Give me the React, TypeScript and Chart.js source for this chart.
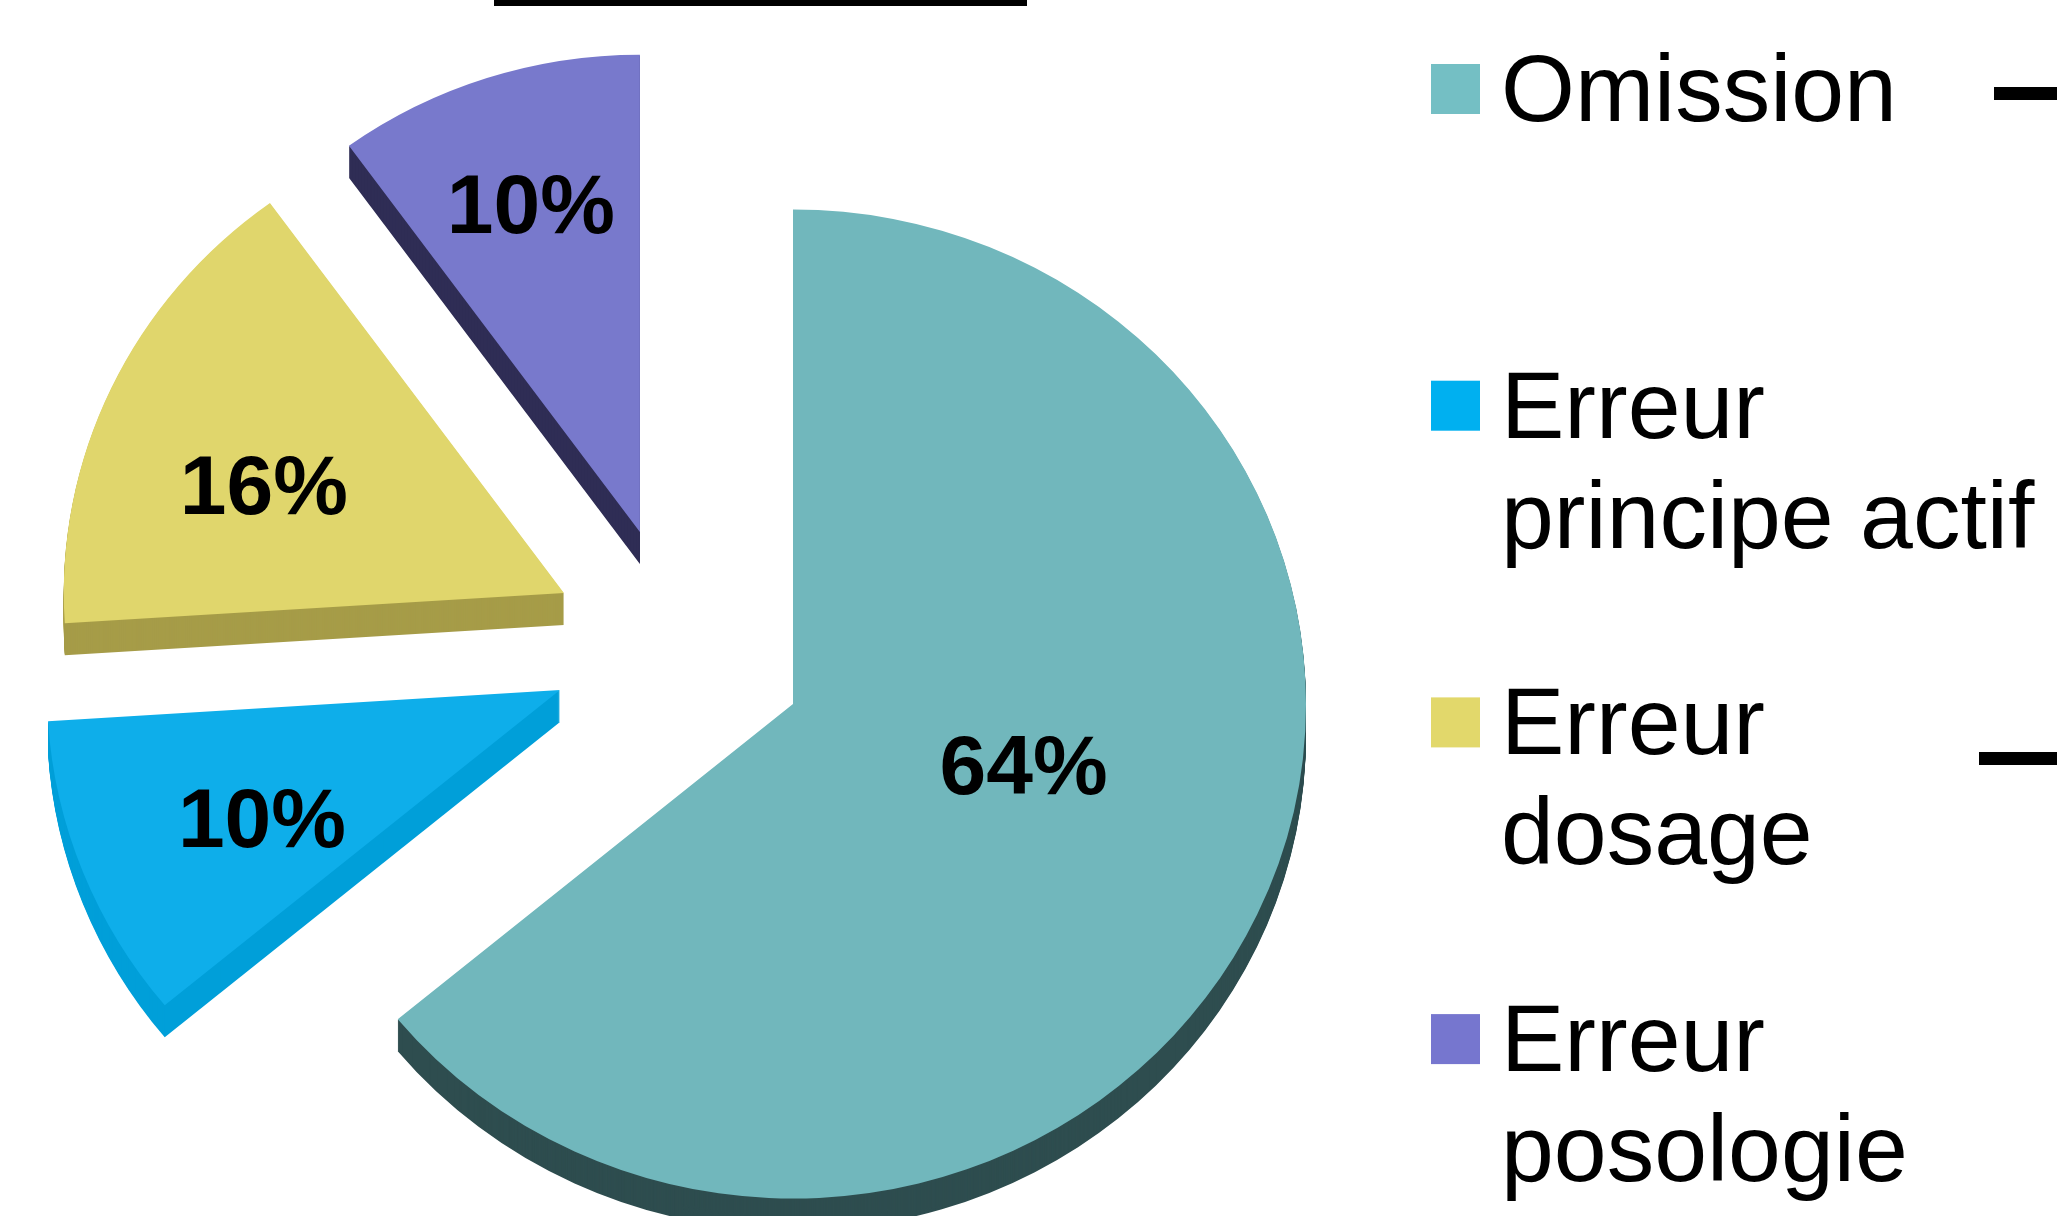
import React, { useEffect, useRef } from "react";
import { Chart, registerables } from "chart.js";

Chart.register(...registerables);

// ---- data ----
const categories = ["Omission", "Erreur principe actif", "Erreur dosage", "Erreur posologie"];
const values = [64, 10, 16, 10];
const valueLabels = ["64%", "10%", "16%", "10%"];

// ---- styles ----
const topColors = ["#71B7BC", "#0EAEEA", "#E0D66C", "#7879CC"];
const sideColors = ["#2E4D4F", "#009FD9", "#A69C48", "#2F2D55"];
const legendColors = ["#74BFC4", "#00B0F0", "#E2D86B", "#7676CF"];
const explodeRadial = [0, 211.5, 254.5, 211];
const explodeTangent = [0, 98.7, 2.9, -92.4];
const radiusScale = [1, 1, 0.975, 0.965];
const labelFrac = [0.468, 0.637, 0.618, 0.663];
const labelRotDeg = [-9, -2.6, -6.4, -0.7];

const W = 2057;
const H = 1216;
const PIE_RADIUS = 513;
const TILT = 0.964;
const DEPTH = 32;
const FONT = '"Liberation Sans", Arial, Helvetica, sans-serif';

const LEGEND_SQUARE_X = 1431;
const LEGEND_TEXT_X = 1501;
const LEGEND_FIRST_BASELINE = 121;
const LEGEND_STEP = 316.7;
const LEGEND_LINE_HEIGHT = 110;
const LEGEND_WRAP = 560;

function wrapText(ctx: CanvasRenderingContext2D, text: string, maxW: number): string[] {
  const words = text.split(" ");
  const lines: string[] = [];
  let cur = "";
  for (const w of words) {
    const test = cur ? cur + " " + w : w;
    if (cur && ctx.measureText(test).width > maxW) {
      lines.push(cur);
      cur = w;
    } else {
      cur = test;
    }
  }
  if (cur) lines.push(cur);
  return lines;
}

const pie3dPlugin = {
  id: "pie3d",
  afterDatasetUpdate(chart: any, args: any) {
    const meta = args.meta;
    meta.data.forEach((el: any, i: number) => {
      const a = (el.startAngle + el.endAngle) / 2;
      const dx = Math.cos(a) * explodeRadial[i] - Math.sin(a) * explodeTangent[i];
      const dy = Math.sin(a) * explodeRadial[i] + Math.cos(a) * explodeTangent[i];
      el.x += dx;
      el.y += dy / TILT;
      el.outerRadius = el.outerRadius * radiusScale[i];
    });
  },
  beforeDatasetsDraw(chart: any) {
    const ctx = chart.ctx as CanvasRenderingContext2D;
    const area = chart.chartArea;
    const cy = (area.top + area.bottom) / 2;
    ctx.save();
    ctx.translate(0, cy);
    ctx.scale(1, TILT);
    ctx.translate(0, -cy);
    const meta = chart.getDatasetMeta(0);
    meta.data.forEach((el: any, i: number) => {
      ctx.fillStyle = sideColors[i];
      for (let t = DEPTH; t >= 1; t--) {
        const y = el.y + t / TILT;
        ctx.beginPath();
        ctx.moveTo(el.x, y);
        ctx.arc(el.x, y, el.outerRadius, el.startAngle, el.endAngle);
        ctx.closePath();
        ctx.fill();
      }
    });
  },
  afterDatasetsDraw(chart: any) {
    const ctx = chart.ctx as CanvasRenderingContext2D;
    ctx.restore();
    const area = chart.chartArea;
    const cy = (area.top + area.bottom) / 2;
    const meta = chart.getDatasetMeta(0);
    ctx.save();
    ctx.fillStyle = "#000";
    ctx.font = `bold 84px ${FONT}`;
    ctx.textAlign = "center";
    ctx.textBaseline = "middle";
    meta.data.forEach((el: any, i: number) => {
      const a = (el.startAngle + el.endAngle) / 2 + (labelRotDeg[i] * Math.PI) / 180;
      const d = labelFrac[i] * PIE_RADIUS;
      const ax = el.x;
      const ay = cy + (el.y - cy) * TILT;
      ctx.fillText(valueLabels[i], ax + Math.cos(a) * d, ay + Math.sin(a) * d);
    });
    ctx.restore();
  },
  afterDraw(chart: any) {
    const ctx = chart.ctx as CanvasRenderingContext2D;
    ctx.save();
    // legend
    ctx.font = `95px ${FONT}`;
    ctx.textAlign = "left";
    ctx.textBaseline = "alphabetic";
    categories.forEach((label, i) => {
      const base = LEGEND_FIRST_BASELINE + i * LEGEND_STEP;
      ctx.fillStyle = legendColors[i];
      ctx.fillRect(LEGEND_SQUARE_X, base - 57, 49, 50);
      ctx.fillStyle = "#000";
      const lines = wrapText(ctx, label, LEGEND_WRAP);
      lines.forEach((ln, j) => {
        ctx.fillText(ln, LEGEND_TEXT_X, base + j * LEGEND_LINE_HEIGHT);
      });
    });
    // cropped decorative bars
    ctx.fillStyle = "#000";
    ctx.fillRect(494, 0, 533, 6);
    ctx.fillRect(1994, 87, 63, 13);
    ctx.fillRect(1979, 752, 78, 13);
    ctx.restore();
  },
};

export default function App() {
  const canvasRef = useRef<HTMLCanvasElement | null>(null);

  useEffect(() => {
    if (!canvasRef.current) return;
    const chart = new Chart(canvasRef.current, {
      type: "pie",
      data: {
        labels: categories,
        datasets: [
          {
            data: values,
            backgroundColor: topColors,
            borderWidth: 0,
            hoverOffset: 0,
            radius: PIE_RADIUS,
            clip: false,
          } as any,
        ],
      },
      options: {
        animation: false,
        responsive: false,
        layout: { padding: { left: 0, right: 471, top: 192, bottom: 0 } },
        plugins: {
          legend: { display: false },
          tooltip: { enabled: false },
          title: { display: false },
        },
        events: [],
      } as any,
      plugins: [pie3dPlugin as any],
    });
    return () => chart.destroy();
  }, []);

  return (
    <div style={{ position: "fixed", left: 0, top: 0, width: W, height: H, background: "#fff" }}>
      <canvas ref={canvasRef} width={W} height={H} style={{ display: "block", width: W, height: H }} />
    </div>
  );
}
